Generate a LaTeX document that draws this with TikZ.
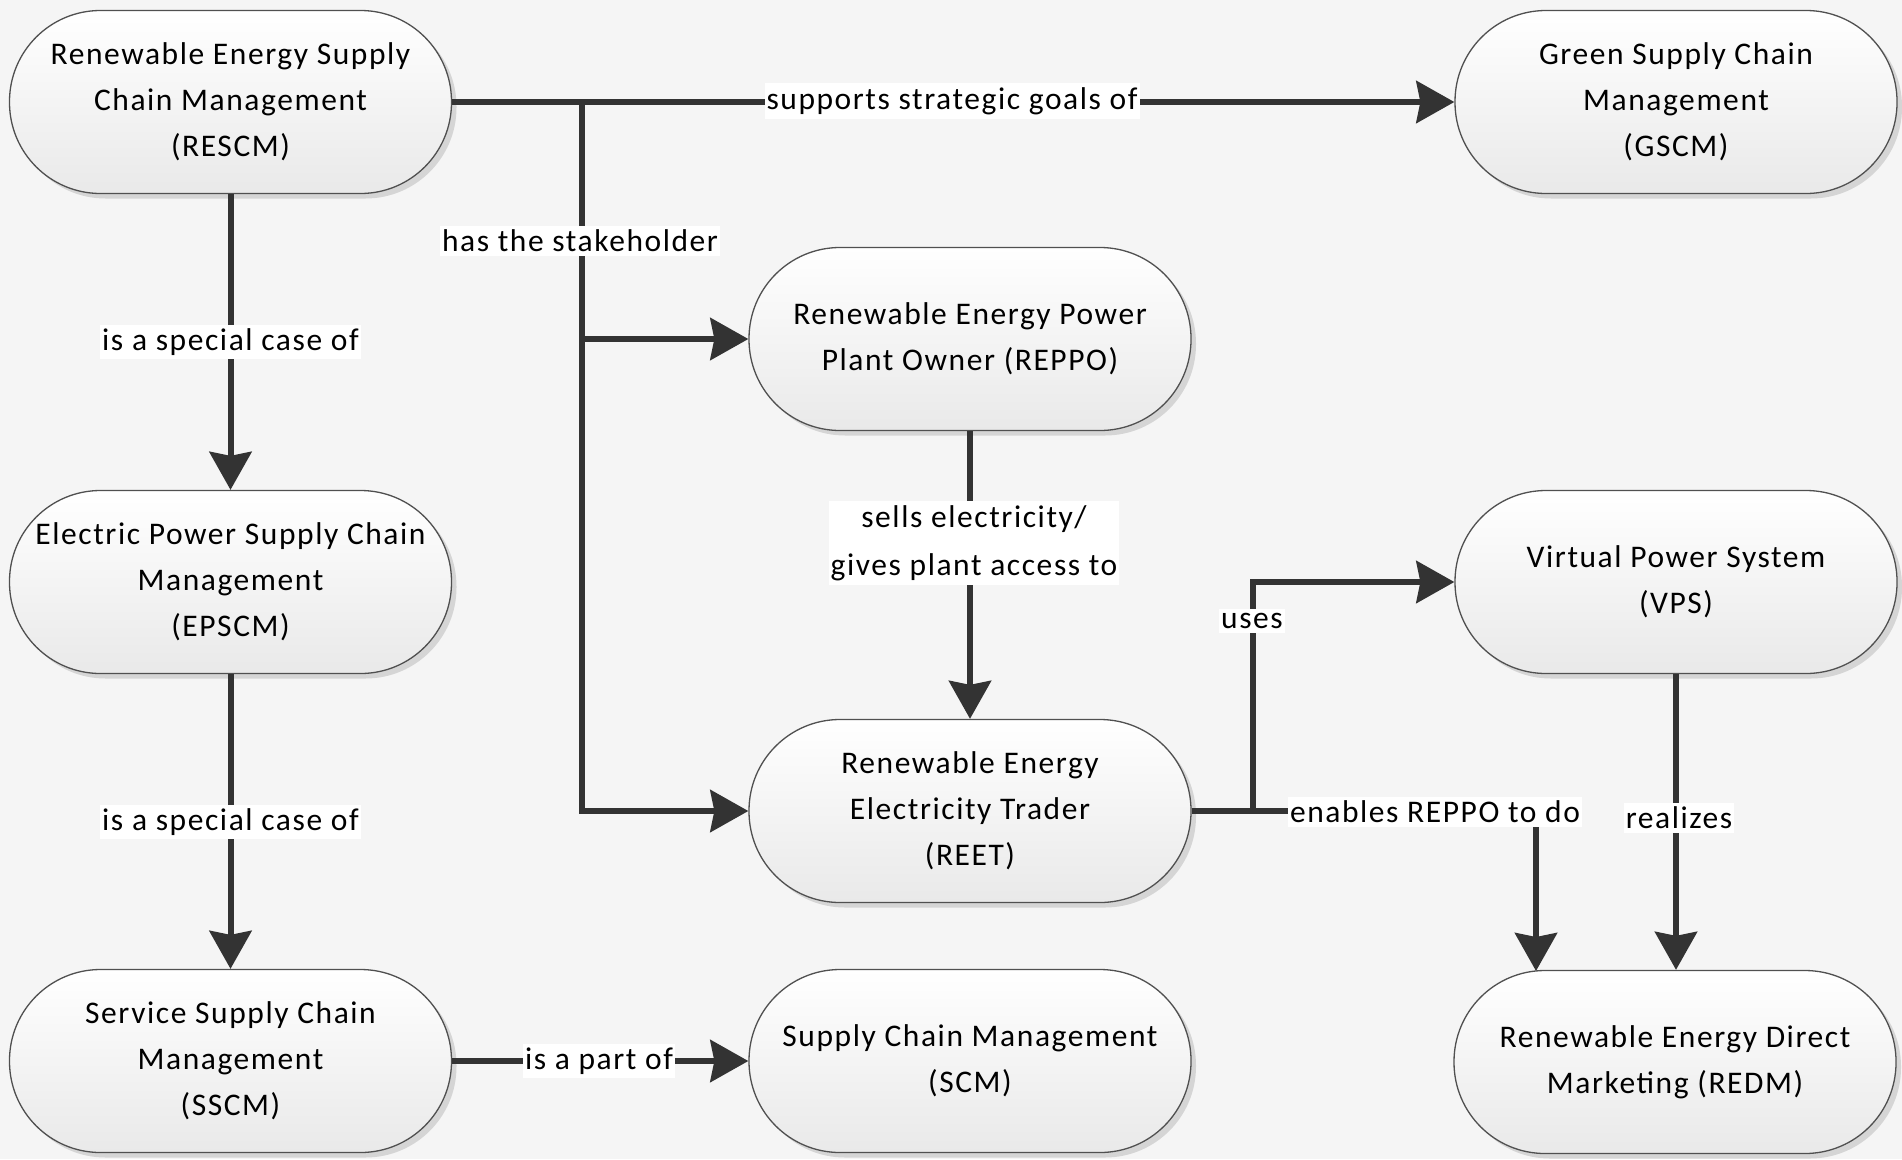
\documentclass[tikz,border=0pt]{standalone}
\usepackage{fontspec}
\setmainfont{Carlito}[LetterSpace=5]
\usetikzlibrary{arrows.meta,shadows}
\definecolor{bg}{HTML}{F5F5F5}
\definecolor{ln}{HTML}{333333}
\definecolor{bd}{HTML}{505050}
\definecolor{nb}{HTML}{E9E9E9}
\tikzset{
  box/.style={rectangle, rounded corners=91pt, minimum width=442pt, minimum height=183pt,
    align=center, draw=bd, line width=1.3pt, top color=white, bottom color=nb,
    drop shadow={shadow xshift=5pt, shadow yshift=-5pt, fill=black, opacity=0.13},
    font=\fontsize{31.5}{46}\selectfont, inner sep=0pt},
  conn/.style={draw=ln, line width=6pt},
  arr/.style={conn, -{Stealth[length=38pt,width=42pt,inset=4pt]}},
  lbl/.style={fill=white, inner xsep=2pt, inner ysep=4pt, align=center,
    font=\fontsize{31.5}{48}\selectfont}
}
\begin{document}
\begin{tikzpicture}[x=1pt,y=-1pt]
\fill[bg] (0,0) rectangle (1902,1159);
\useasboundingbox (0,0) rectangle (1902,1159);
% nodes
\node[box] (rescm) at (230.5,102) {Renewable Energy Supply\\Chain Management\\(RESCM)};
\node[box] (gscm) at (1676,102) {Green Supply Chain\\Management\\(GSCM)};
\node[box] (reppo) at (970,339) {Renewable Energy Power\\Plant Owner (REPPO)};
\node[box] (epscm) at (230.5,582) {Electric Power Supply Chain\\Management\\(EPSCM)};
\node[box] (vps) at (1676,582) {Virtual Power System\\(VPS)};
\node[box] (reet) at (970,811) {Renewable Energy\\Electricity Trader\\(REET)};
\node[box] (sscm) at (230.5,1061) {Service Supply Chain\\Management\\(SSCM)};
\node[box] (scm) at (970,1061) {Supply Chain Management\\(SCM)};
\node[box] (redm) at (1675,1062) {Renewable Energy Direct\\Marketing (REDM)};
% junctions
\coordinate (j1) at (582,102);
\coordinate (j2) at (1253,811);
\coordinate (j3) at (1536,971);
% connectors
\draw[arr] (rescm.east) -- (gscm.west);
\draw[arr] (j1) |- (reppo.west);
\draw[arr] (j1) |- (reet.west);
\draw[arr] (rescm.south) -- (epscm.north);
\draw[arr] (epscm.south) -- (sscm.north);
\draw[arr] (sscm.east) -- (scm.west);
\draw[arr] (reppo.south) -- (reet.north);
\draw[arr] (reet.east) -- (j2) |- (vps.west);
\draw[arr] (reet.east) -| (j3);
\draw[arr] (vps.south) -- (redm.north -| vps.south);
% labels
\node[lbl] (l1) at (952,101) {supports strategic goals of};
\node[lbl] (l2) at (580,241) {has the stakeholder};
\node[lbl] (l3) at (230.5,342) {is a special case of};
\node[lbl] (l4) at (230.5,822) {is a special case of};
\node[lbl] (l5) at (974,543) {sells electricity/\\gives plant access to};
\node[lbl] (l6) at (1252,621) {uses};
\node[lbl] (l7) at (1435,812) {enables REPPO to do};
\node[lbl] (l8) at (1679,818) {realizes};
\node[lbl] (l9) at (599,1061) {is a part of};
\end{tikzpicture}
\end{document}
